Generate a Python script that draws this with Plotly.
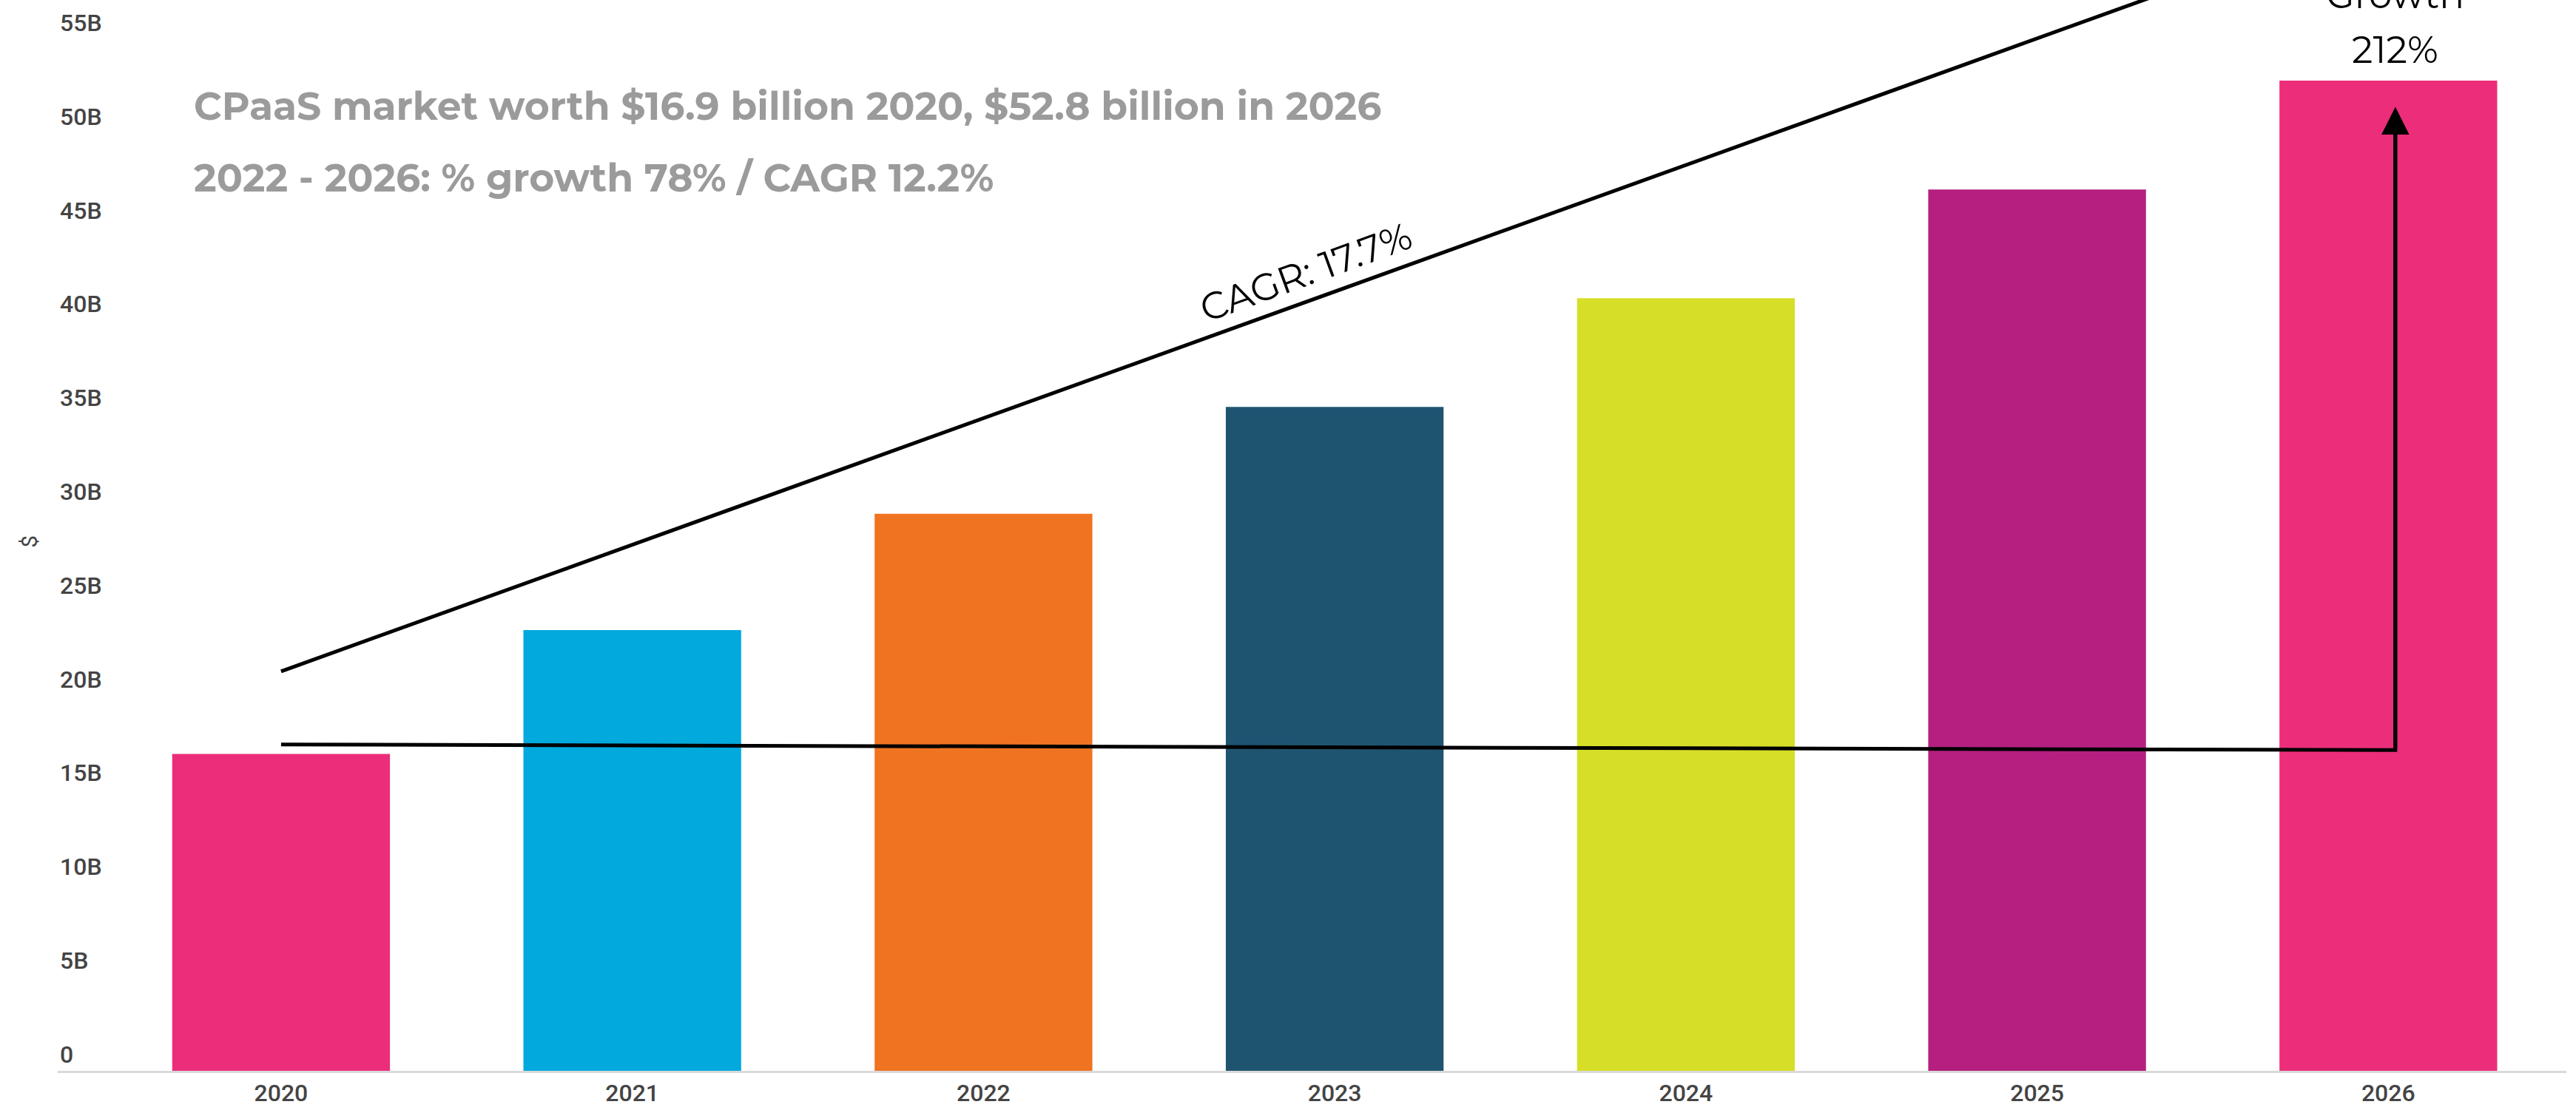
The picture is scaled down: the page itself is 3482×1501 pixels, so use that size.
import plotly.graph_objects as go

# Market size by year (US$ billions)
years = ["2020", "2021", "2022", "2023", "2024", "2025", "2026"]
market_bn = [16.9, 23.5, 29.7, 35.4, 41.2, 47.0, 52.8]
bar_colors = ["#EC2E7A", "#02A9DD", "#F07321", "#1F5471", "#D7DE27", "#B51F7F", "#EC2E7A"]

# Y axis ticks
y_ticks = [0, 5, 10, 15, 20, 25, 30, 35, 40, 45, 50, 55]
y_tick_text = ["0", "5B", "10B", "15B", "20B", "25B", "30B", "35B", "40B", "45B", "50B", "55B"]

# Trend guide (CAGR) and the 2020 reference level with the growth arrow
trend_x = [0, 6]
trend_y = [21.3, 61.8]
base_x = [0, 6.02, 6.02]
base_y = [17.4, 17.1, 50.0]
arrow_x = 6.02
arrow_tail_y = 17.1
arrow_tip_y = 51.4

headline_1 = "CPaaS market worth $16.9 billion 2020, $52.8 billion in 2026"
headline_2 = "2022 - 2026: % growth 78% / CAGR 12.2%"
cagr_label = "CAGR: 17.7%"
growth_label = "Growth"
growth_value = "212%"

positions = list(range(len(years)))

fig = go.Figure()

fig.add_trace(go.Bar(
    x=positions, y=market_bn, width=0.62,
    marker=dict(color=bar_colors, line=dict(width=0)),
    showlegend=False, hoverinfo="skip",
))

fig.add_trace(go.Scatter(
    x=trend_x, y=trend_y, mode="lines",
    line=dict(color="black", width=5), showlegend=False, hoverinfo="skip",
))

fig.add_trace(go.Scatter(
    x=base_x, y=base_y, mode="lines",
    line=dict(color="black", width=5), showlegend=False, hoverinfo="skip",
))

# arrow head on the growth bracket
fig.add_annotation(
    x=arrow_x, y=arrow_tip_y, ax=arrow_x, ay=arrow_tail_y,
    xref="x", yref="y", axref="x", ayref="y",
    text="", showarrow=True, arrowhead=2, arrowsize=1.5,
    arrowwidth=5, arrowcolor="black", standoff=0,
)

text_font = "Montserrat, 'Open Sans', sans-serif"

fig.add_annotation(
    x=0.0537, y=0.9006, xref="paper", yref="paper",
    xanchor="left", yanchor="middle", showarrow=False,
    text=headline_1,
    font=dict(family=text_font, size=52, color="#9B9B9B", weight="bold"),
)
fig.add_annotation(
    x=0.0537, y=0.834, xref="paper", yref="paper",
    xanchor="left", yanchor="middle", showarrow=False,
    text=headline_2,
    font=dict(family=text_font, size=52, color="#9B9B9B", weight="bold"),
)

fig.add_annotation(
    x=2.918, y=42.6, xref="x", yref="y",
    xanchor="center", yanchor="middle", showarrow=False,
    text=cagr_label, textangle=-20,
    font=dict(family=text_font, size=51, color="black"),
)

fig.add_annotation(
    x=arrow_x, y=0.9537, xref="x", yref="paper",
    xanchor="center", yanchor="middle", showarrow=False,
    text=growth_value,
    font=dict(family=text_font, size=50, color="black"),
)
fig.add_annotation(
    x=arrow_x, y=1.0048, xref="x", yref="paper",
    xanchor="center", yanchor="middle", showarrow=False,
    text=growth_label,
    font=dict(family=text_font, size=50, color="black"),
)

# vertical axis title
fig.add_annotation(
    x=-0.0112, y=0.494, xref="paper", yref="paper",
    xanchor="center", yanchor="middle", showarrow=False,
    text="$", textangle=-90,
    font=dict(family="Roboto", size=30, color="#444444"),
)

fig.update_layout(
    width=3482, height=1501,
    margin=dict(l=78, r=13, t=0, b=53),
    paper_bgcolor="white", plot_bgcolor="white",
    bargap=0.38,
    xaxis=dict(
        range=[-0.636, 6.507],
        tickvals=positions, ticktext=years,
        tickfont=dict(family="Roboto", size=32, color="#444444", weight=500),
        showgrid=False, zeroline=False,
        showline=True, linecolor="#D9D9D9", linewidth=3,
        ticks="", fixedrange=True,
    ),
    yaxis=dict(
        range=[0, 57.1],
        tickvals=y_ticks, ticktext=y_tick_text,
        ticklabelposition="inside top",
        tickfont=dict(family="Roboto", size=32, color="#444444", weight=500),
        showgrid=False, zeroline=False, showline=False,
        ticks="", fixedrange=True,
    ),
)

fig.write_html("out.html")
